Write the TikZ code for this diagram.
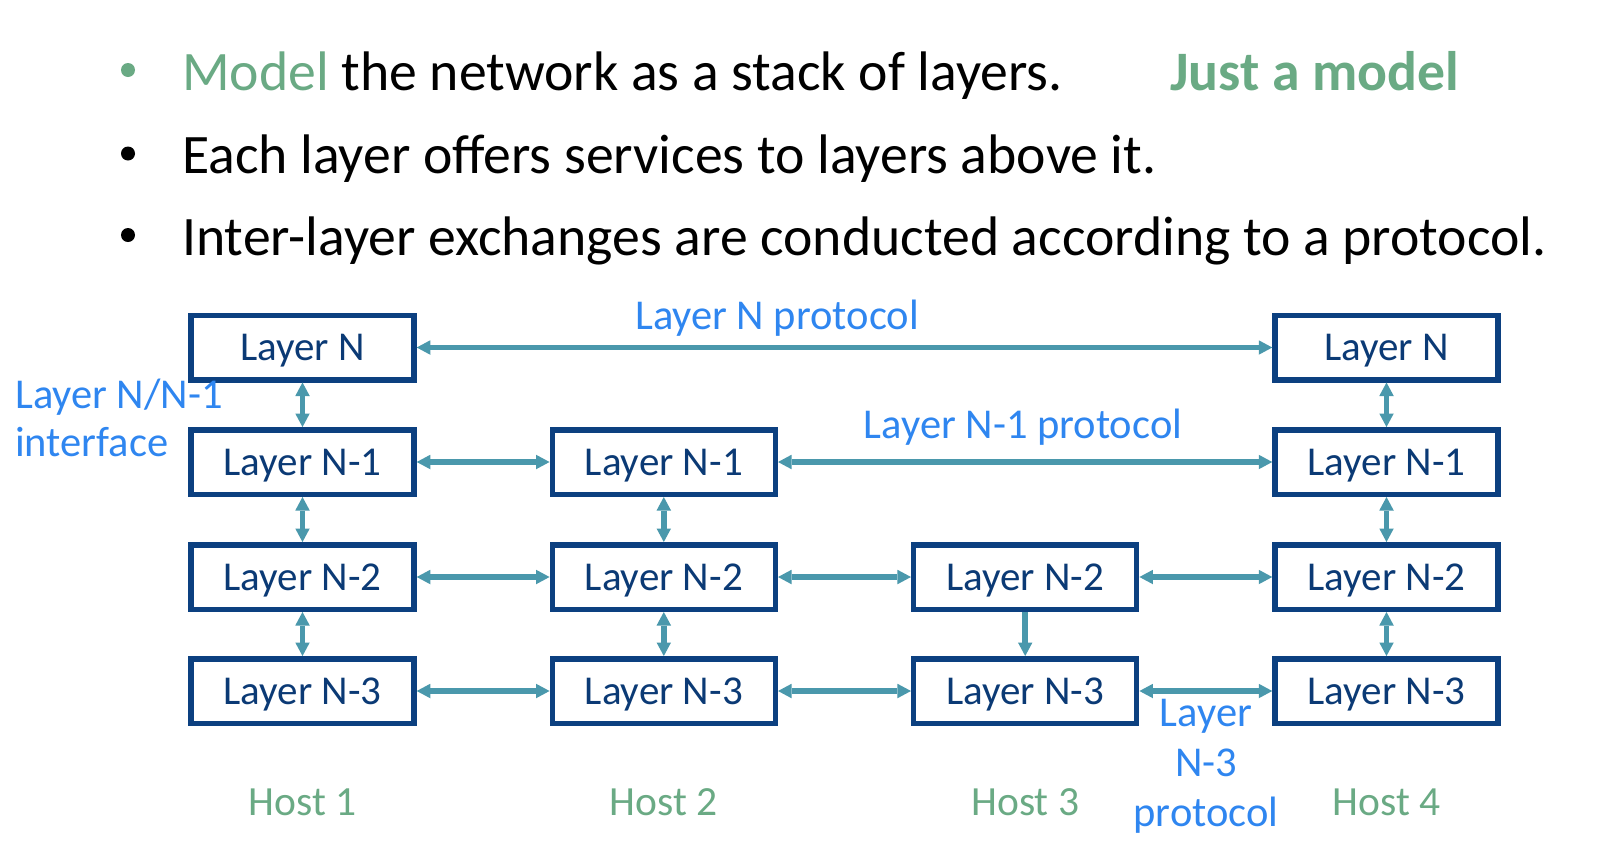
\documentclass[tikz,border=0pt]{standalone}
\usepackage{fontspec}
\setmainfont{Carlito}
\usetikzlibrary{arrows.meta}

\definecolor{boxnavy}{HTML}{0C4080}
\definecolor{boxtext}{HTML}{0B3A75}
\definecolor{linkteal}{HTML}{4A98AC}
\definecolor{labelblue}{HTML}{2F86F0}
\definecolor{hostgreen}{HTML}{6AAA84}

\tikzset{
  layerbox/.style={draw=boxnavy, line width=5.5pt, fill=white,
    minimum width=223pt, minimum height=64.5pt, inner sep=0pt,
    text height=26.5pt, text depth=0pt,
    font=\fontsize{41}{49}\selectfont, text=boxtext},
  link/.style={draw=linkteal, line width=5.7pt,
    {Triangle[length=13.5pt,width=14.5pt,line width=0pt]}-{Triangle[length=13.5pt,width=14.5pt,line width=0pt]}},
  downlink/.style={draw=linkteal, line width=5.7pt,
    -{Triangle[length=13.5pt,width=14.5pt,line width=0pt]}},
  bluelabel/.style={text=labelblue, font=\fontsize{42.5}{50}\selectfont, inner sep=0pt},
  hostlabel/.style={text=hostgreen, font=\fontsize{41.5}{50}\selectfont, inner sep=0pt, anchor=base},
  titleline/.style={font=\fontsize{55.7}{67}\selectfont, inner sep=0pt, anchor=base west},
  bulletdot/.style={circle, fill=black, minimum size=14pt, inner sep=0pt},
}

\begin{document}
\begin{tikzpicture}[x=1pt, y=-1pt]
  \fill[white] (0,0) rectangle (1606,841);
  \useasboundingbox (0,0) rectangle (1606,841);

  % bulleted text
  \node[bulletdot, fill=hostgreen] (b1) at (128,70) {};
  \node[bulletdot] (b2) at (128,153.5) {};
  \node[bulletdot] (b3) at (128,235) {};
  \node[titleline] (t1) at (182,90) {\textcolor{hostgreen}{Model} the network as a stack of layers.};
  \node[titleline] (t2) at (182,173) {Each layer offers services to layers above it.};
  \node[titleline] (t3) at (182,255) {Inter-layer exchanges are conducted according to a protocol.};
  \node[titleline, text=hostgreen, font=\fontsize{55.7}{67}\selectfont\bfseries] (jm) at (1170,90) {Just a model};

  % layer boxes: columns are hosts, rows are layers
  \node[layerbox] (h1a) at (302.5,347.5) {Layer N};
  \node[layerbox] (h1b) at (302.5,462) {Layer N-1};
  \node[layerbox] (h1c) at (302.5,577) {Layer N-2};
  \node[layerbox] (h1d) at (302.5,691) {Layer N-3};

  \node[layerbox] (h2b) at (663.8,462) {Layer N-1};
  \node[layerbox] (h2c) at (663.8,577) {Layer N-2};
  \node[layerbox] (h2d) at (663.8,691) {Layer N-3};

  \node[layerbox] (h3c) at (1025.2,577) {Layer N-2};
  \node[layerbox] (h3d) at (1025.2,691) {Layer N-3};

  \node[layerbox] (h4a) at (1386.5,347.5) {Layer N};
  \node[layerbox] (h4b) at (1386.5,462) {Layer N-1};
  \node[layerbox] (h4c) at (1386.5,577) {Layer N-2};
  \node[layerbox] (h4d) at (1386.5,691) {Layer N-3};

  % peer-to-peer links
  \draw[link] (h1a) -- (h4a);
  \draw[link] (h1b) -- (h2b);
  \draw[link] (h2b) -- (h4b);
  \draw[link] (h1c) -- (h2c);
  \draw[link] (h2c) -- (h3c);
  \draw[link] (h3c) -- (h4c);
  \draw[link] (h1d) -- (h2d);
  \draw[link] (h2d) -- (h3d);
  \draw[link] (h3d) -- (h4d);

  % interfaces inside each host
  \draw[link] (h1a) -- (h1b);
  \draw[link] (h1b) -- (h1c);
  \draw[link] (h1c) -- (h1d);
  \draw[link] (h2b) -- (h2c);
  \draw[link] (h2c) -- (h2d);
  \draw[downlink] (h3c) -- (h3d);
  \draw[link] (h4a) -- (h4b);
  \draw[link] (h4b) -- (h4c);
  \draw[link] (h4c) -- (h4d);

  % protocol and interface labels
  \node[bluelabel, anchor=base] (pn) at (777,329.5) {Layer N protocol};
  \node[bluelabel, anchor=base] (pn1) at (1023,438) {Layer N-1 protocol};
  \node[bluelabel, anchor=base west] (if1) at (15,408.3) {Layer N/N-1};
  \node[bluelabel, anchor=base west] (if2) at (15,456.7) {interface};
  \node[bluelabel, anchor=base] (pn3a) at (1206,726.7) {Layer};
  \node[bluelabel, anchor=base] (pn3b) at (1206,776.7) {N-3};
  \node[bluelabel, anchor=base] (pn3c) at (1206,826.7) {protocol};

  % host names
  \node[hostlabel] (host1) at (302.5,815) {Host 1};
  \node[hostlabel] (host2) at (663.8,815) {Host 2};
  \node[hostlabel] (host3) at (1025.2,815) {Host 3};
  \node[hostlabel] (host4) at (1386.5,815) {Host 4};
\end{tikzpicture}
\end{document}
